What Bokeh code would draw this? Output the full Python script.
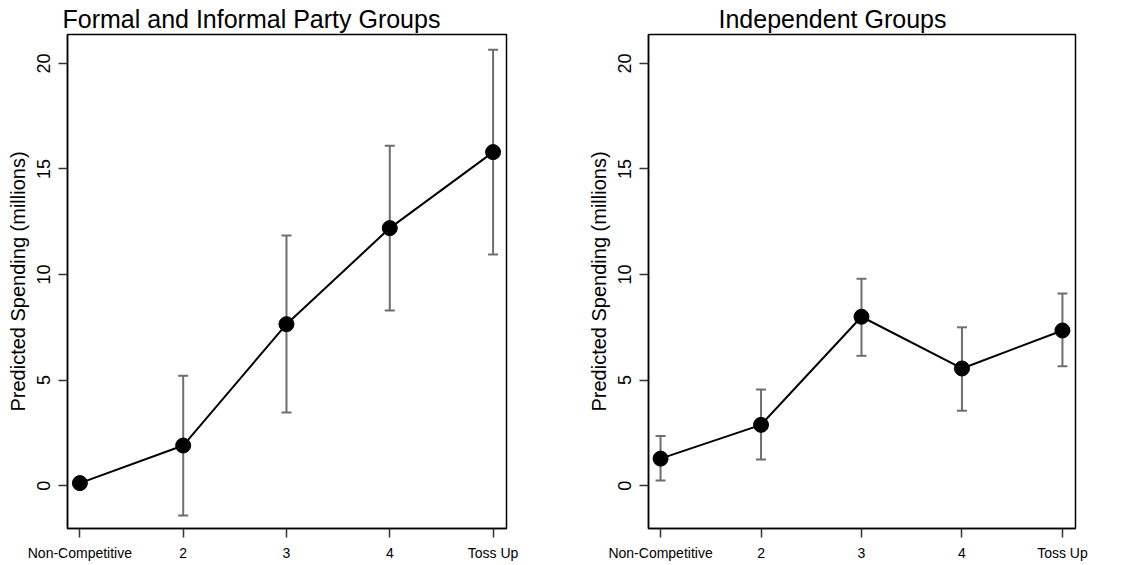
from bokeh.plotting import figure
from bokeh.layouts import row
from bokeh.models import FixedTicker, Range1d, Whisker, ColumnDataSource
from bokeh.embed import file_html
from bokeh.resources import INLINE

categories = ["Non-Competitive", "2", "3", "4", "Toss Up"]
positions = [1, 2, 3, 4, 5]

party_est = [0.12, 1.9, 7.65, 12.2, 15.8]
party_lo = [0.05, -1.42, 3.47, 8.3, 10.95]
party_hi = [0.2, 5.2, 11.85, 16.1, 20.65]

indep_est = [1.28, 2.88, 8.0, 5.55, 7.35]
indep_lo = [0.24, 1.24, 6.15, 3.55, 5.65]
indep_hi = [2.35, 4.55, 9.8, 7.5, 9.1]

titles = ["Formal and Informal Party Groups", "Independent Groups"]
y_ticks = [0, 5, 10, 15, 20]
FONT = "Liberation Sans"


def make_panel(title, est, lo, hi, width, bl, br, toff):
    p = figure(width=width, height=565, output_backend="svg", toolbar_location=None,
               x_range=Range1d(0.88, 5.13), y_range=Range1d(-2.03, 21.37),
               min_border_left=bl, min_border_right=br, min_border_top=0,
               min_border_bottom=37, title=title)
    p.title.text_font = FONT
    p.title.text_font_size = "25px"
    p.title.text_font_style = "normal"
    p.title.text_color = "black"
    p.title.align = "left"
    p.title.offset = toff
    p.title.standoff = 4
    p.background_fill_color = "white"
    p.border_fill_color = "white"
    p.outline_line_color = "black"
    p.outline_line_width = 1.5
    p.grid.visible = False

    src = ColumnDataSource(dict(x=positions, y=est, lo=lo, hi=hi))
    w = Whisker(source=src, base="x", lower="lo", upper="hi", dimension="height",
                line_color="#6e6e6e", line_width=2)
    for head in (w.upper_head, w.lower_head):
        head.size = 10
        head.line_color = "#6e6e6e"
        head.line_width = 2
    p.add_layout(w)
    p.line("x", "y", source=src, line_color="black", line_width=2)
    p.scatter("x", "y", source=src, size=15, fill_color="black", line_color="black")

    p.xaxis.ticker = FixedTicker(ticks=positions)
    p.xaxis.major_label_overrides = {pos: lab for pos, lab in zip(positions, categories)}
    p.yaxis.ticker = FixedTicker(ticks=y_ticks)
    p.yaxis.major_label_orientation = "parallel"
    p.yaxis.axis_label = "Predicted Spending (millions)"
    for ax in (p.xaxis, p.yaxis):
        ax.axis_line_color = "black"
        ax.axis_line_width = 1.5
        ax.major_tick_line_color = "#333333"
        ax.major_tick_line_width = 1.5
        ax.major_tick_out = 9
        ax.major_tick_in = 0
        ax.minor_tick_line_color = None
        ax.major_label_text_font = FONT
        ax.major_label_text_color = "black"
        ax.axis_label_text_font = FONT
        ax.axis_label_text_font_style = "normal"
        ax.axis_label_text_color = "black"
    p.xaxis.major_label_text_font_size = "14px"
    p.xaxis.major_label_standoff = 7
    p.yaxis.major_label_text_font_size = "18px"
    p.yaxis.major_label_standoff = 8
    p.yaxis.axis_label_text_font_size = "20px"
    p.yaxis.axis_label_standoff = 6
    return p


p1 = make_panel(titles[0], party_est, party_lo, party_hi, 572, 67, 66, -5)
p2 = make_panel(titles[1], indep_est, indep_lo, indep_hi, 573, 76, 70, 70)
layout = row(p1, p2)

open("out.html", "w").write(file_html(layout, INLINE))
